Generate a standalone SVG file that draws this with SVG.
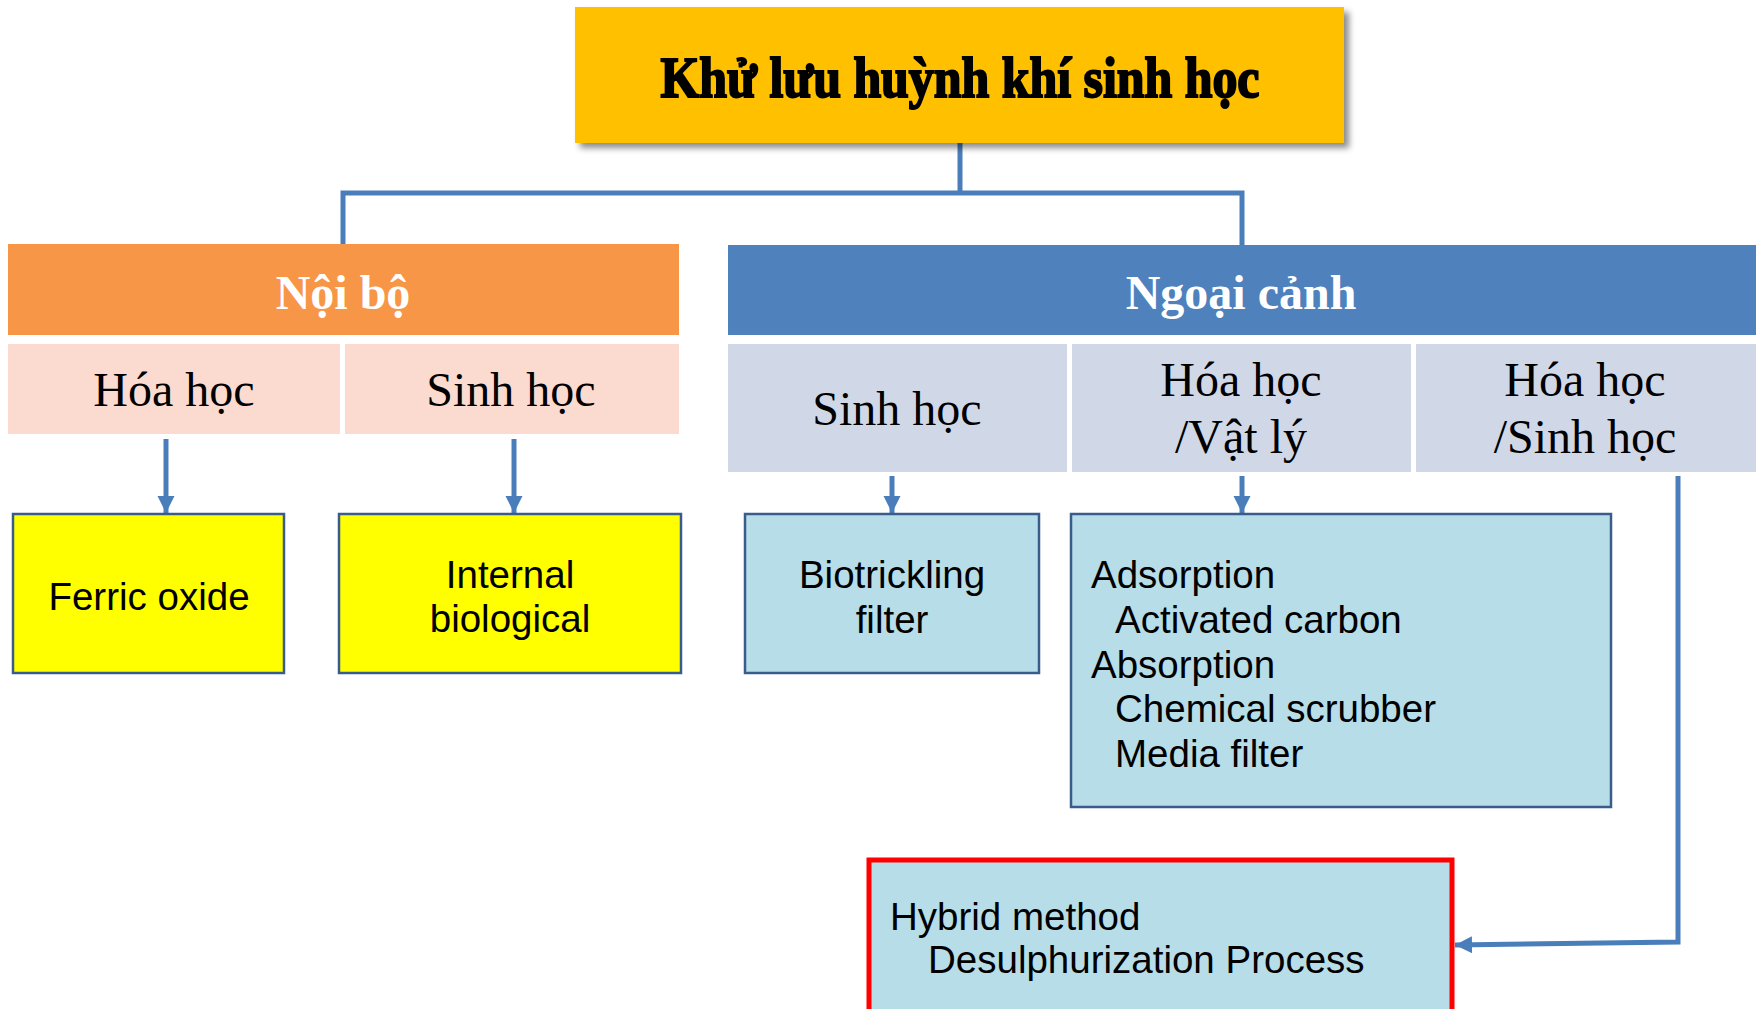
<svg xmlns="http://www.w3.org/2000/svg" width="1756" height="1009" viewBox="0 0 1756 1009">
<defs>
<filter id="sh" x="-5%" y="-10%" width="115%" height="130%">
<feDropShadow dx="5" dy="5" stdDeviation="3" flood-color="#000" flood-opacity="0.45"/>
</filter>
<marker id="ah" markerUnits="userSpaceOnUse" markerWidth="18" markerHeight="18" refX="17" refY="8.5" orient="auto">
<path d="M0,0 L17,8.5 L0,17 z" fill="#4A7EBB"/>
</marker>
<style>
.conn{fill:none;stroke:#4A7EBB;stroke-width:5}
.ser{font-family:"Liberation Serif","Times New Roman",serif;font-size:48px;fill:#000;text-anchor:middle}
.hdr{font-family:"Liberation Serif","Times New Roman",serif;font-size:48px;font-weight:bold;fill:#fff;text-anchor:middle}
.san{font-family:"Liberation Sans",Arial,sans-serif;font-size:38.5px;fill:#000}
.mid{text-anchor:middle}
.yb{fill:#FFFF00;stroke:#385D8A;stroke-width:2.5}
.bb{fill:#B7DDE8;stroke:#385D8A;stroke-width:2.5}
.pk{fill:#FBDACF}
.gy{fill:#D0D8E8}
</style>
</defs>
<g id="connectors">
<polyline class="conn" points="960,143 960,193"/>
<polyline class="conn" points="343,244 343,193 1242,193 1242,245"/>
<line class="conn" x1="166" y1="439" x2="166" y2="513" marker-end="url(#ah)"/>
<line class="conn" x1="514" y1="439" x2="514" y2="513" marker-end="url(#ah)"/>
<line class="conn" x1="892" y1="476" x2="892" y2="513" marker-end="url(#ah)"/>
<line class="conn" x1="1242" y1="476" x2="1242" y2="513" marker-end="url(#ah)"/>
<polyline class="conn" points="1678,476 1678,942 1455,945" marker-end="url(#ah)"/>
</g>
<g id="title">
<rect x="575" y="7" width="769" height="136" fill="#FFC000" filter="url(#sh)"/>
<text x="960" y="97" font-family="'Liberation Serif','Times New Roman',serif" font-size="56" font-weight="bold" text-anchor="middle" fill="#000" stroke="#000" stroke-width="2" textLength="599" lengthAdjust="spacingAndGlyphs">Khử lưu huỳnh khí sinh học</text>
</g>
<g id="noibo">
<rect x="8" y="244" width="671" height="91" fill="#F79646"/>
<text class="hdr" x="343" y="309">Nội bộ</text>
</g>
<g id="noibo-hoahoc">
<rect class="pk" x="8" y="344" width="332" height="90"/>
<text class="ser" x="174" y="406">Hóa học</text>
</g>
<g id="noibo-sinhhoc">
<rect class="pk" x="345" y="344" width="334" height="90"/>
<text class="ser" x="511" y="406">Sinh học</text>
</g>
<g id="ngoaicanh">
<rect x="728" y="245" width="1028" height="90" fill="#4F81BD"/>
<text class="hdr" x="1241" y="309">Ngoại cảnh</text>
</g>
<g id="nc-sinhhoc">
<rect class="gy" x="728" y="344" width="339" height="128"/>
<text class="ser" x="897" y="425">Sinh học</text>
</g>
<g id="nc-hoahoc-vatly">
<rect class="gy" x="1072" y="344" width="339" height="128"/>
<text class="ser" x="1241" y="396">Hóa học</text>
<text class="ser" x="1241" y="453">/Vật lý</text>
</g>
<g id="nc-hoahoc-sinhhoc">
<rect class="gy" x="1416" y="344" width="340" height="128"/>
<text class="ser" x="1585" y="396">Hóa học</text>
<text class="ser" x="1585" y="453">/Sinh học</text>
</g>
<g id="ferric">
<rect class="yb" x="13" y="514" width="271" height="159"/>
<text class="san mid" x="149" y="610">Ferric oxide</text>
</g>
<g id="internal">
<rect class="yb" x="339" y="514" width="342" height="159"/>
<text class="san mid" x="510" y="588">Internal</text>
<text class="san mid" x="510" y="632">biological</text>
</g>
<g id="biotrickling">
<rect class="bb" x="745" y="514" width="294" height="159"/>
<text class="san mid" x="892" y="588">Biotrickling</text>
<text class="san mid" x="892" y="633">filter</text>
</g>
<g id="adsorption">
<rect class="bb" x="1071" y="514" width="540" height="293"/>
<text class="san" x="1091" y="588">Adsorption</text>
<text class="san" x="1115" y="633">Activated carbon</text>
<text class="san" x="1091" y="678">Absorption</text>
<text class="san" x="1115" y="722">Chemical scrubber</text>
<text class="san" x="1115" y="767">Media filter</text>
</g>
<g id="hybrid">
<rect x="869" y="860" width="583" height="160" fill="#B7DDE8" stroke="#FF0000" stroke-width="5"/>
<text class="san" x="890" y="930">Hybrid method</text>
<text class="san" x="928" y="973">Desulphurization Process</text>
</g>
</svg>
